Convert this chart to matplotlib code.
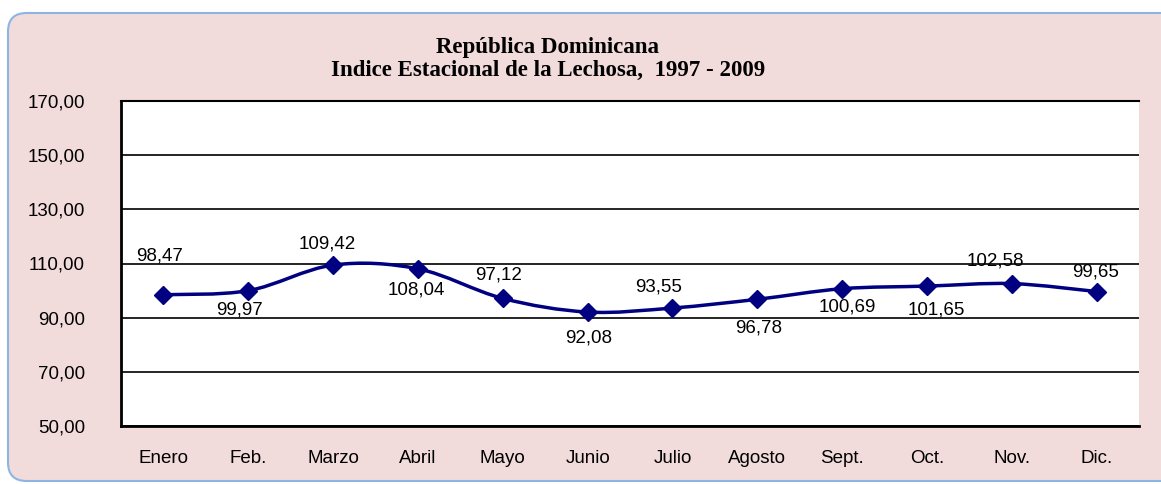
import matplotlib.pyplot as plt
from matplotlib.patches import FancyBboxPatch, PathPatch
from matplotlib.path import Path

# data
months = ["Enero", "Feb.", "Marzo", "Abril", "Mayo", "Junio",
          "Julio", "Agosto", "Sept.", "Oct.", "Nov.", "Dic."]
index_values = [98.47, 99.97, 109.42, 108.04, 97.12, 92.08,
                93.55, 96.78, 100.69, 101.65, 102.58, 99.65]
y_ticks = [50, 70, 90, 110, 130, 150, 170]

# where each data label sits relative to its point (points)
label_offsets = [(-3, 28), (-6, -14), (-4, 15), (-1, -15), (-3, 17), (1, -19),
                 (-10, 15), (1, -21), (4, -13), (7, -17), (-12, 16), (-1, 14)]

navy = "#000080"

fig = plt.figure(figsize=(11.61, 4.84), dpi=100)

# rounded pink background panel
panel = FancyBboxPatch((8 / 1161, 3 / 484), 1180 / 1161, 468 / 484,
                       boxstyle="round,pad=0,rounding_size=0.016",
                       transform=fig.transFigure, facecolor="#F2DCDB",
                       edgecolor="#8EB4E3", linewidth=1.5, zorder=-1,
                       mutation_aspect=1161 / 484)
fig.patches.append(panel)

ax = fig.add_axes([121 / 1161, 58 / 484, 1018 / 1161, 325 / 484])
ax.set_facecolor("white")

x = list(range(len(months)))

# smoothed line (cardinal spline drawn as bezier segments)
verts = [(x[0], index_values[0])]
codes = [Path.MOVETO]
n = len(x)
for i in range(n - 1):
    p0 = (x[max(i - 1, 0)], index_values[max(i - 1, 0)])
    p1 = (x[i], index_values[i])
    p2 = (x[i + 1], index_values[i + 1])
    p3 = (x[min(i + 2, n - 1)], index_values[min(i + 2, n - 1)])
    c1 = (p1[0] + (p2[0] - p0[0]) / 6, p1[1] + (p2[1] - p0[1]) / 6)
    c2 = (p2[0] - (p3[0] - p1[0]) / 6, p2[1] - (p3[1] - p1[1]) / 6)
    verts += [c1, c2, p2]
    codes += [Path.CURVE4] * 3
ax.add_patch(PathPatch(Path(verts, codes), fill=False, edgecolor=navy,
                       linewidth=2.5, zorder=3))
ax.plot(x, index_values, linestyle="none", marker="D", markersize=9.5,
        color=navy, zorder=4)

for xi, v, off in zip(x, index_values, label_offsets):
    ax.annotate(f"{v:.2f}".replace(".", ","), (xi, v), xytext=off,
                textcoords="offset points", ha="center", va="center",
                fontsize=13.5, family="Liberation Sans", zorder=5)

ax.set_xlim(-0.5, len(months) - 0.5)
ax.set_ylim(50, 170)
ax.set_yticks(y_ticks)
ax.set_yticklabels([f"{t},00" for t in y_ticks])
ax.set_xticks(x)
ax.set_xticklabels(months)
ax.tick_params(axis="y", length=0, pad=26, labelsize=13.5)
ax.tick_params(axis="x", length=0, pad=17, labelsize=13.5)
for lab in ax.get_xticklabels() + ax.get_yticklabels():
    lab.set_family("Liberation Sans")

ax.grid(axis="y", color="black", linewidth=1.2)
ax.set_axisbelow(True)
ax.spines["right"].set_visible(False)
ax.spines["top"].set_linewidth(1.5)
ax.spines["left"].set_linewidth(2)
ax.spines["bottom"].set_linewidth(2)

fig.text(548 / 1161, 1 - 37 / 484,
         "República Dominicana\nIndice Estacional de la Lechosa,  1997 - 2009",
         ha="center", va="top", fontsize=16.5, fontweight="bold",
         family="Liberation Serif", linespacing=1.1)

fig.savefig("out.png", dpi=100)
